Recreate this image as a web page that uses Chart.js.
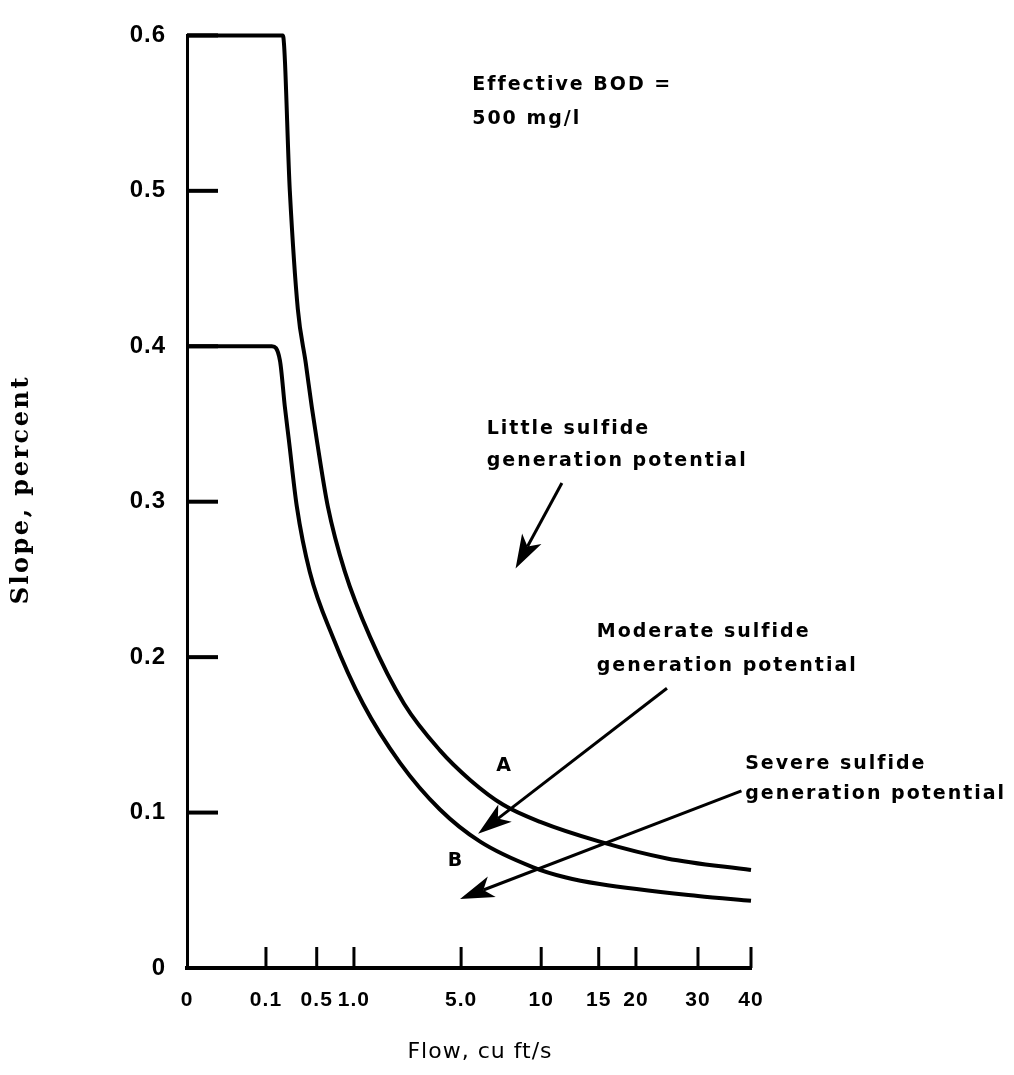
<!DOCTYPE html>
<html>
<head>
<meta charset="utf-8">
<script src="https://cdn.jsdelivr.net/npm/chart.js"></script>
<style>
  html, body { margin: 0; padding: 0; background: #fff; }
  #wrap { width: 1014px; height: 1075px; position: relative; }
</style>
</head>
<body>
<div id="wrap"><canvas id="sulfideChart"></canvas></div>
<script>
// --- data ---
// x ticks as printed (the axis is not to scale, see StretchedScale below)
const flowTicks = [0, 0.1, 0.5, 1, 5, 10, 15, 20, 30, 40];
const flowTickLabels = ['0', '0.1', '0.5', '1.0', '5.0', '10', '15', '20', '30', '40'];
const slopeTicks = [0, 0.1, 0.2, 0.3, 0.4, 0.5, 0.6];

// curve A (upper)
const flowA  = [0, 0.233, 0.288, 0.351, 0.414, 0.461, 0.5, 0.649, 0.878, 1.6, 2.87, 4.21, 5.56, 7.63, 9.94, 15.14, 25, 40];
const slopeA = [0.6, 0.6, 0.5, 0.424, 0.389, 0.361, 0.34, 0.297, 0.255, 0.213, 0.17, 0.14, 0.121, 0.105, 0.094, 0.0813, 0.0705, 0.063];

// curve B (lower)
const flowB  = [0, 0.147, 0.21, 0.249, 0.28, 0.343, 0.445, 0.716, 1.34, 2.72, 4.21, 6.19, 9.5, 12.07, 15.14, 30, 40];
const slopeB = [0.4, 0.4, 0.391, 0.361, 0.34, 0.297, 0.255, 0.213, 0.17, 0.132, 0.102, 0.0813, 0.0648, 0.0584, 0.054, 0.0463, 0.0432];

// where each printed x tick sits along the axis (0 = left end, 1 = right end)
const flowTickSpacing = [0, 0.140, 0.230, 0.296, 0.486, 0.628, 0.730, 0.796, 0.906, 1];

// --- a linear scale whose tick stops are hand-spaced like the original drawing ---
class StretchedScale extends Chart.LinearScale {
    static id = 'stretched';
    static defaults = {};

    getPixelForValue(value) {
        if (value === null || value === undefined || isNaN(value)) return NaN;
        const n = flowTicks.length;
        let i = 0;
        while (i < n - 2 && value > flowTicks[i + 1]) i++;
        const t = (value - flowTicks[i]) / (flowTicks[i + 1] - flowTicks[i]);
        const frac = flowTickSpacing[i] + t * (flowTickSpacing[i + 1] - flowTickSpacing[i]);
        return this.getPixelForDecimal(frac);
    }

    getValueForPixel(pixel) {
        const frac = this.getDecimalForPixel(pixel);
        const n = flowTicks.length;
        let i = 0;
        while (i < n - 2 && frac > flowTickSpacing[i + 1]) i++;
        const t = (frac - flowTickSpacing[i]) / (flowTickSpacing[i + 1] - flowTickSpacing[i]);
        return flowTicks[i] + t * (flowTicks[i + 1] - flowTicks[i]);
    }
}
Chart.register(StretchedScale);

const toPoints = (xs, ys) => xs.map((x, i) => ({ x: x, y: ys[i] }));

// annotation texts, placed in data units (flow, slope)
const notes = [
    { text: 'Effective BOD =', x: 5.69, y: 0.568 },
    { text: '500 mg/l', x: 5.69, y: 0.546 },
    { text: 'Little sulfide', x: 6.6, y: 0.347 },
    { text: 'generation potential', x: 6.6, y: 0.326 },
    { text: 'Moderate sulfide', x: 14.83, y: 0.216 },
    { text: 'generation potential', x: 14.83, y: 0.194 },
    { text: 'Severe sulfide', x: 38.9, y: 0.131 },
    { text: 'generation potential', x: 38.9, y: 0.112 },
    { text: 'A', x: 7.2, y: 0.130 },
    { text: 'B', x: 4.5, y: 0.0686 }
];

const arrows = [
    { from: [11.8, 0.312], to: [8.4, 0.257] },
    { from: [25, 0.180], to: [6.06, 0.0863] },
    { from: [38.2, 0.114], to: [4.96, 0.0444] }
];

const xTitle = 'Flow, cu ft/s';
const yTitle = 'Slope, percent';

const FONT = "'DejaVu Sans', 'Liberation Sans', sans-serif";
const TICK_FONT = "'Liberation Sans', Arial, sans-serif";

const figurePlugin = {
    id: 'figureExtras',
    beforeDraw(chart) {
        // typed-looking spacing for the tick labels
        chart.ctx.letterSpacing = '1px';
    },
    afterDatasetsDraw(chart) {
        const ctx = chart.ctx;
        const xs = chart.scales.x, ys = chart.scales.y;
        const area = chart.chartArea;
        ctx.save();
        ctx.strokeStyle = '#000';
        ctx.fillStyle = '#000';
        ctx.lineCap = 'butt';

        // inward tick marks
        ctx.lineWidth = 4;
        slopeTicks.forEach(v => {
            if (v === 0) return;
            const py = ys.getPixelForValue(v);
            ctx.beginPath();
            ctx.moveTo(area.left, py);
            ctx.lineTo(area.left + 31, py);
            ctx.stroke();
        });
        ctx.lineWidth = 3;
        flowTicks.forEach(v => {
            if (v === 0) return;
            const px = xs.getPixelForValue(v);
            ctx.beginPath();
            ctx.moveTo(px, area.bottom);
            ctx.lineTo(px, area.bottom - 21);
            ctx.stroke();
        });

        // arrows with a notched head
        arrows.forEach(a => {
            const x1 = xs.getPixelForValue(a.from[0]), y1 = ys.getPixelForValue(a.from[1]);
            const x2 = xs.getPixelForValue(a.to[0]), y2 = ys.getPixelForValue(a.to[1]);
            const ang = Math.atan2(y2 - y1, x2 - x1);
            const c = Math.cos(ang), s = Math.sin(ang);
            const len = 34, half = 11, notch = 9;
            const bx = x2 - len * c, by = y2 - len * s;
            ctx.lineWidth = 3;
            ctx.beginPath();
            ctx.moveTo(x1, y1);
            ctx.lineTo(bx + notch * c, by + notch * s);
            ctx.stroke();
            ctx.beginPath();
            ctx.moveTo(x2, y2);
            ctx.lineTo(bx + half * s, by - half * c);
            ctx.lineTo(bx + notch * c, by + notch * s);
            ctx.lineTo(bx - half * s, by + half * c);
            ctx.closePath();
            ctx.fill();
        });

        // notes
        ctx.font = 'bold 19px ' + FONT;
        ctx.textBaseline = 'middle';
        ctx.textAlign = 'left';
        ctx.letterSpacing = '2px';
        notes.forEach(n => {
            ctx.fillText(n.text, xs.getPixelForValue(n.x), ys.getPixelForValue(n.y));
        });

        // axis titles
        ctx.textAlign = 'center';
        ctx.font = '22px ' + FONT;
        ctx.letterSpacing = '1px';
        ctx.fillText(xTitle, (area.left + area.right) / 2 + 11, chart.height - 23);
        ctx.save();
        ctx.translate(22, (area.top + area.bottom) / 2 - 12);
        ctx.rotate(-Math.PI / 2);
        ctx.font = "bold 24px 'DejaVu Serif', serif";
        ctx.letterSpacing = '2.5px';
        ctx.fillText(yTitle, 0, 0);
        ctx.restore();

        ctx.restore();
    }
};

const ctx = document.getElementById('sulfideChart').getContext('2d');
new Chart(ctx, {
    type: 'line',
    data: {
        datasets: [
            {
                label: 'A',
                data: toPoints(flowA, slopeA),
                borderColor: '#000',
                borderWidth: 4,
                pointRadius: 0,
                cubicInterpolationMode: 'monotone',
                clip: false,
                fill: false
            },
            {
                label: 'B',
                data: toPoints(flowB, slopeB),
                borderColor: '#000',
                borderWidth: 4,
                pointRadius: 0,
                cubicInterpolationMode: 'monotone',
                clip: false,
                fill: false
            }
        ]
    },
    options: {
        responsive: true,
        maintainAspectRatio: false,
        animation: false,
        layout: { padding: { top: 23, right: 263, left: 0, bottom: 0 } },
        plugins: {
            legend: { display: false },
            tooltip: { enabled: false }
        },
        scales: {
            x: {
                type: 'stretched',
                min: 0,
                max: 40,
                afterBuildTicks: scale => { scale.ticks = flowTicks.map(v => ({ value: v })); },
                afterFit: scale => { scale.height = 107; },
                grid: { display: false, drawTicks: false },
                border: { display: true, color: '#000', width: 4 },
                ticks: {
                    autoSkip: false,
                    maxRotation: 0,
                    padding: 20,
                    color: '#000',
                    font: { family: TICK_FONT, size: 21, weight: 'bold' },
                    callback: (value, index) => flowTickLabels[index]
                },
                title: { display: false }
            },
            y: {
                min: 0,
                max: 0.6,
                afterBuildTicks: scale => { scale.ticks = slopeTicks.map(v => ({ value: v })); },
                afterFit: scale => { scale.width = 187; },
                grid: { display: false, drawTicks: false },
                border: { display: true, color: '#000', width: 3 },
                ticks: {
                    padding: 21,
                    color: '#000',
                    font: { family: TICK_FONT, size: 24, weight: 'bold' },
                    callback: v => (v === 0 ? '0' : v.toFixed(1))
                },
                title: { display: false }
            }
        }
    },
    plugins: [figurePlugin]
});
</script>
</body>
</html>
